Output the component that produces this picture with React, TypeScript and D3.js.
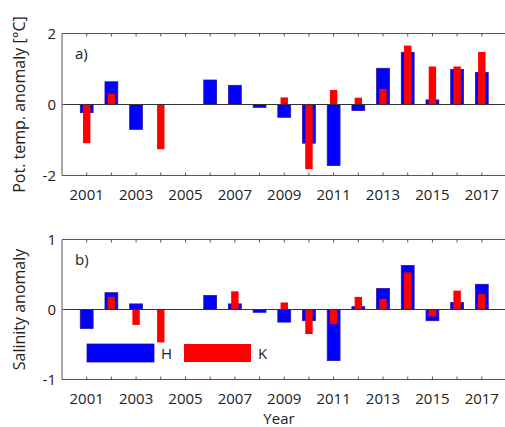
import React from "react";
import * as d3 from "d3";

const years = [2001, 2002, 2003, 2004, 2005, 2006, 2007, 2008, 2009, 2010, 2011, 2012, 2013, 2014, 2015, 2016, 2017];
const tempH: (number | null)[] = [-0.23, 0.64, -0.70, null, null, 0.69, 0.54, -0.08, -0.36, -1.09, -1.72, -0.17, 1.02, 1.47, 0.13, 0.99, 0.90];
const tempK: (number | null)[] = [-1.09, 0.30, null, -1.26, null, null, null, null, 0.20, -1.82, 0.41, 0.19, 0.44, 1.66, 1.07, 1.07, 1.48];
const salH: (number | null)[] = [-0.27, 0.24, 0.08, null, null, 0.20, 0.08, -0.04, -0.18, -0.16, -0.73, 0.04, 0.30, 0.63, -0.16, 0.10, 0.36];
const salK: (number | null)[] = [null, 0.18, -0.22, -0.47, null, null, 0.26, null, 0.10, -0.35, -0.21, 0.18, 0.15, 0.53, -0.10, 0.27, 0.22];
const xTickLabels = [2001, 2003, 2005, 2007, 2009, 2011, 2013, 2015, 2017];
const tempTicks = [-2, 0, 2];
const salTicks = [-1, 0, 1];
const seriesNames = ["H", "K"];

const FONT = "'Open Sans', 'DejaVu Sans', sans-serif";
const BLUE = "#0000ff";
const RED = "#ff0000";
const AXIS = "#555";

const x = d3.scaleLinear().domain([2000, 2018]).range([62, 506.5]);

type PanelProps = {
  top: number;
  bottom: number;
  domain: [number, number];
  h: (number | null)[];
  k: (number | null)[];
  ticks: number[];
  label: string;
  ylabel: string;
  legend?: boolean;
};

function Panel({ top, bottom, domain, h, k, ticks, label, ylabel, legend }: PanelProps) {
  const y = d3.scaleLinear().domain(domain).range([bottom, top]);
  const y0 = y(0);
  const wH = x(2000.52) - x(2000);
  const wK = x(2000.3) - x(2000);
  const left = x(2000);
  const right = x(2018);
  return (
    <g>
      {years.map((yr, i) =>
        h[i] == null ? null : (
          <rect
            key={"h" + yr}
            x={x(yr) - wH / 2}
            width={wH}
            y={Math.min(y(h[i] as number), y0)}
            height={Math.abs(y(h[i] as number) - y0)}
            fill={BLUE}
            stroke="#3010a0"
            strokeWidth={0.8}
          />
        )
      )}
      {years.map((yr, i) =>
        k[i] == null ? null : (
          <rect
            key={"k" + yr}
            x={x(yr) - wK / 2}
            width={wK}
            y={Math.min(y(k[i] as number), y0)}
            height={Math.abs(y(k[i] as number) - y0)}
            fill={RED}
          />
        )
      )}
      <line x1={left} x2={right} y1={y0} y2={y0} stroke="#333" strokeWidth={1} />
      <line x1={left} x2={right} y1={top} y2={top} stroke={AXIS} strokeWidth={1} />
      <line x1={left} x2={right} y1={bottom} y2={bottom} stroke={AXIS} strokeWidth={1} />
      <line x1={left} x2={left} y1={top} y2={bottom} stroke={AXIS} strokeWidth={1} />
      {years.map((yr) => (
        <g key={"t" + yr}>
          <line x1={x(yr)} x2={x(yr)} y1={bottom} y2={bottom - 3} stroke={AXIS} />
          <line x1={x(yr)} x2={x(yr)} y1={top} y2={top + 3} stroke={AXIS} />
        </g>
      ))}
      {xTickLabels.map((yr) => (
        <text key={"l" + yr} x={x(yr)} y={bottom + 24} textAnchor="middle" fontFamily={FONT} fontSize={15} fill="#222">
          {yr}
        </text>
      ))}
      {ticks.map((t) => (
        <g key={"y" + t}>
          <line x1={left} x2={left + 3} y1={y(t)} y2={y(t)} stroke={AXIS} />
          <text x={56} y={y(t) + 5} textAnchor="end" fontFamily={FONT} fontSize={15} fill="#222">
            {t}
          </text>
        </g>
      ))}
      <text x={75} y={top + 25} fontFamily={FONT} fontSize={15} fill="#222">
        {label}
      </text>
      <text
        transform={`translate(25,${(top + bottom) / 2}) rotate(-90)`}
        textAnchor="middle"
        fontFamily={FONT}
        fontSize={16}
        fill="#222"
      >
        {ylabel}
      </text>
      {legend && (
        <g>
          <rect x={87} y={344} width={67} height={18} fill={BLUE} stroke="#3010a0" strokeWidth={0.8} />
          <text x={161} y={359} fontFamily={FONT} fontSize={15} fill="#222">{seriesNames[0]}</text>
          <rect x={184} y={344} width={67} height={18} fill={RED} />
          <text x={258} y={359} fontFamily={FONT} fontSize={15} fill="#222">{seriesNames[1]}</text>
        </g>
      )}
    </g>
  );
}

export default function App() {
  return (
    <svg width={505} height={427} style={{ position: "absolute", left: 0, top: 0, background: "#fff" }}>
      <Panel top={33.5} bottom={175.5} domain={[-2, 2]} h={tempH} k={tempK} ticks={tempTicks} label="a)" ylabel="Pot. temp. anomaly [°C]" />
      <Panel top={239.5} bottom={379.5} domain={[-1, 1]} h={salH} k={salK} ticks={salTicks} label="b)" ylabel="Salinity anomaly" legend />
      <text x={279} y={424} textAnchor="middle" fontFamily={FONT} fontSize={15} fill="#222">Year</text>
    </svg>
  );
}
